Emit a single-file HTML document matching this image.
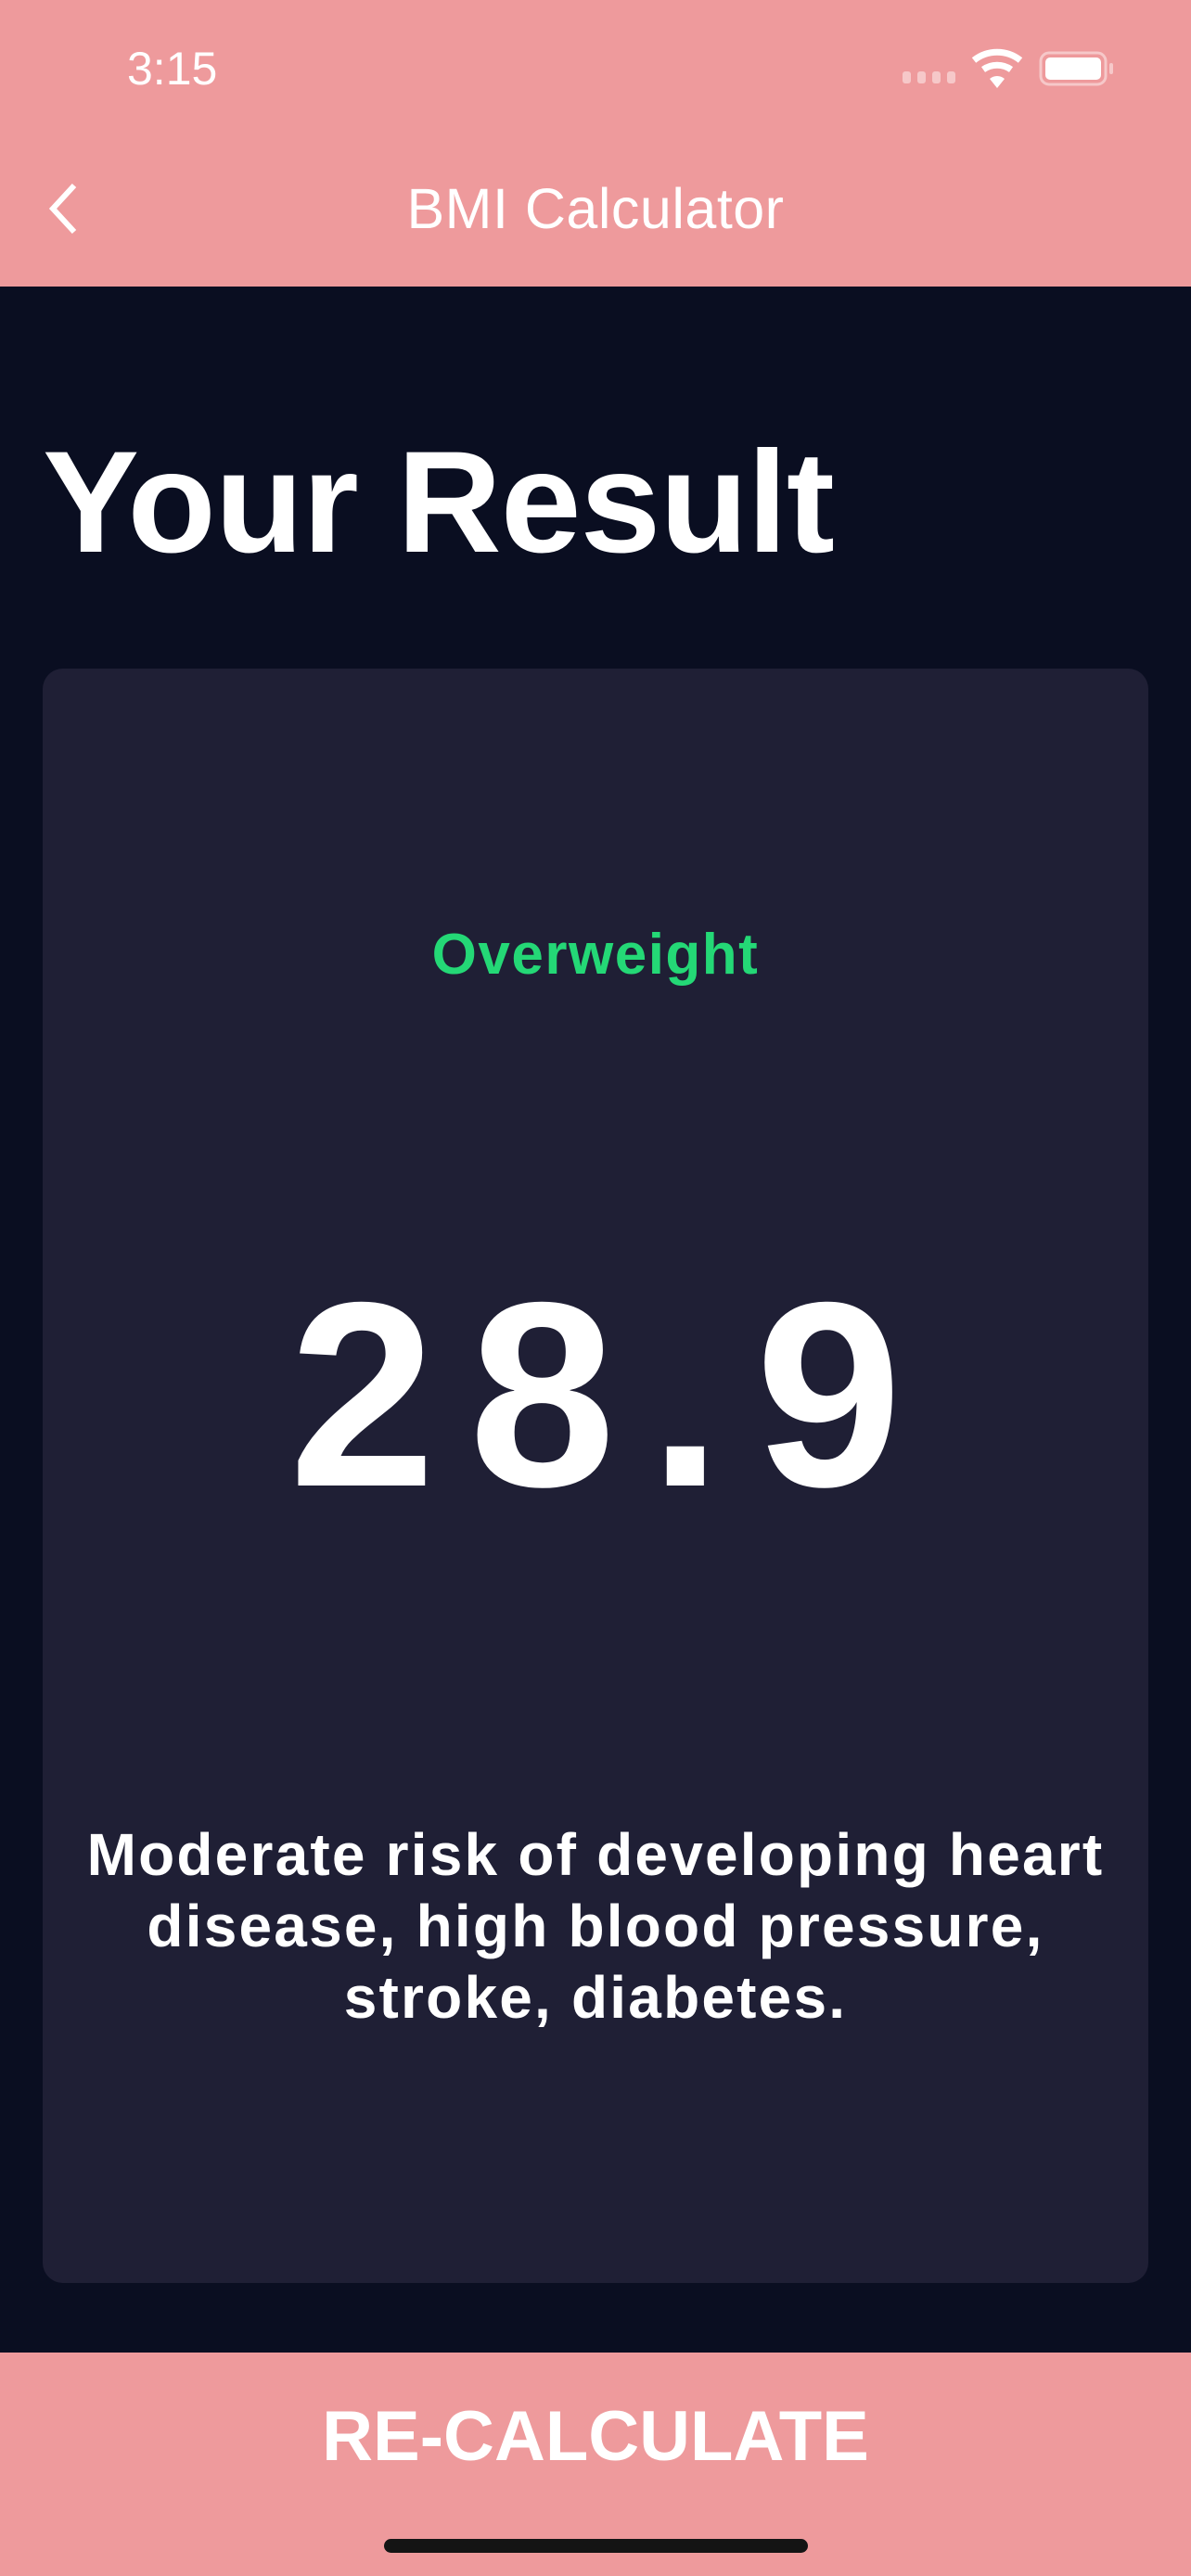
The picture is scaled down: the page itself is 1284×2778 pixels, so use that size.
<!DOCTYPE html>
<html><head><meta charset="utf-8">
<style>
html,body{margin:0;padding:0;}
body{width:1284px;height:2778px;position:relative;overflow:hidden;background:#0A0E21;font-family:"Liberation Sans",sans-serif;color:#fff;}
.abs{position:absolute;}
.c{text-align:center;left:0;width:1284px;white-space:nowrap;}
</style></head><body>
<div class="abs" style="left:0;top:0;width:1284px;height:309px;background:#EE9A9C;"></div>
<div class="abs" style="left:137px;top:46px;font-size:50px;line-height:56px;">3:15</div>
<svg class="abs" style="left:960px;top:40px" width="250" height="70">
<rect x="13" y="37" width="9" height="13" rx="3" fill="#F6C8C9"/>
<rect x="29" y="37" width="9" height="13" rx="3" fill="#F6C8C9"/>
<rect x="45" y="37" width="9" height="13" rx="3" fill="#F6C8C9"/>
<rect x="61" y="37" width="9" height="13" rx="3" fill="#F6C8C9"/>
<path d="M90 25 A40 40 0 0 1 140 25" stroke="#fff" stroke-width="7" fill="none"/>
<path d="M100 35 A26 26 0 0 1 130 35" stroke="#fff" stroke-width="7" fill="none"/>
<path d="M107 45 L115 55 L123 45 A12 12 0 0 0 107 45Z" fill="#fff"/>
<rect x="162" y="17" width="70" height="34" rx="9" fill="none" stroke="#F6C8C9" stroke-width="3"/>
<rect x="167" y="22" width="60" height="24" rx="5" fill="#fff"/>
<rect x="236" y="28" width="4" height="12" rx="2" fill="#F6C8C9"/>
</svg>
<svg class="abs" style="left:44px;top:192px" width="50" height="66">
<path d="M36 8 L13 33 L36 58" stroke="#fff" stroke-width="6" fill="none"/>
</svg>
<div class="abs c" style="top:190px;font-size:61px;line-height:70px;letter-spacing:0.5px;">BMI Calculator</div>
<div class="abs" style="left:46px;top:452px;font-size:156px;line-height:180px;font-weight:bold;letter-spacing:-1px;white-space:nowrap;">Your Result</div>
<div class="abs" style="left:46px;top:721px;width:1192px;height:1741px;background:#1F1F35;border-radius:22px;"></div>
<div class="abs c" style="top:994px;font-size:62px;line-height:72px;font-weight:bold;color:#24D876;letter-spacing:1.5px;">Overweight</div>
<div class="abs c" style="top:1345px;font-size:284px;line-height:320px;font-weight:bold;letter-spacing:36px;text-indent:36px;">28.9</div>
<div class="abs c" style="top:1962px;font-size:64px;line-height:77px;font-weight:bold;letter-spacing:2.2px;">Moderate risk of developing heart<br>disease, high blood pressure,<br>stroke, diabetes.</div>
<div class="abs" style="left:0;top:2537px;width:1284px;height:241px;background:#EE9A9C;"></div>
<div class="abs c" style="top:2583px;font-size:76px;line-height:90px;font-weight:bold;">RE-CALCULATE</div>
<div class="abs" style="left:414px;top:2738px;width:457px;height:15px;background:#141414;border-radius:8px;"></div>
</body></html>
